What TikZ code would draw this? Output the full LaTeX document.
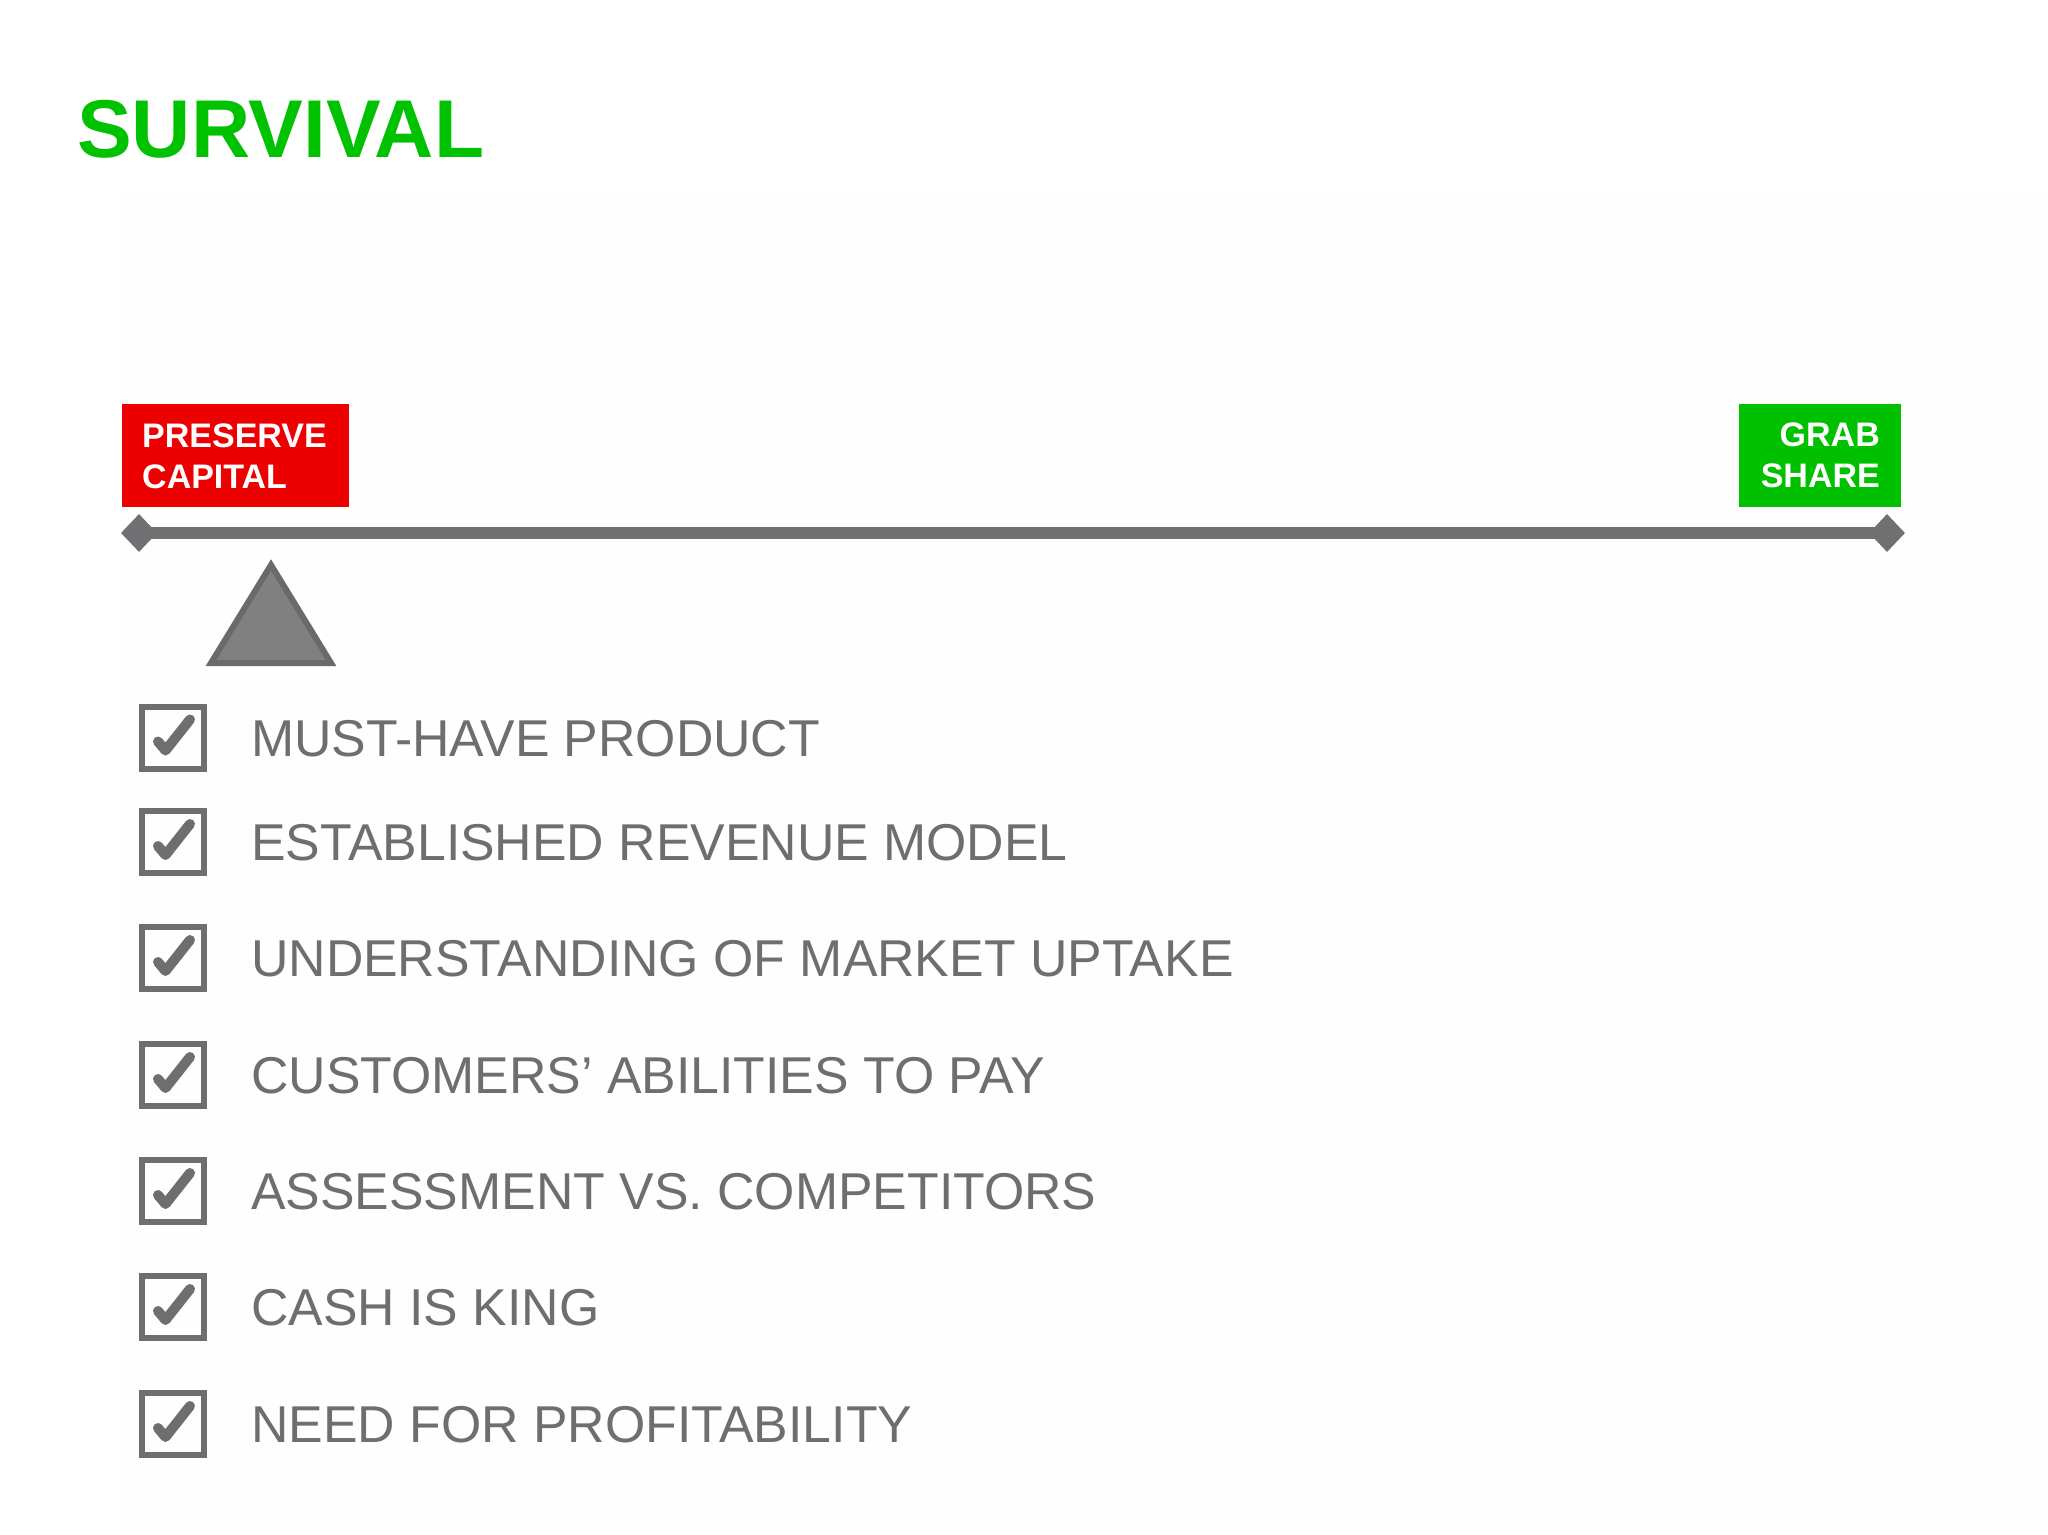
\documentclass[tikz,border=0pt]{standalone}
\usepackage{fontspec}
\setmainfont{Liberation Sans}
\usetikzlibrary{shapes.geometric}
\definecolor{titlegreen}{RGB}{0,194,0}
\definecolor{boxred}{RGB}{236,0,0}
\definecolor{boxgreen}{RGB}{0,192,0}
\definecolor{txtgray}{RGB}{110,110,112}
\definecolor{linegray}{RGB}{112,112,114}
\definecolor{trifill}{RGB}{128,128,128}
\definecolor{triedge}{RGB}{106,106,108}
\definecolor{panel}{RGB}{254,254,254}
\tikzset{
  lbl/.style={inner sep=0pt, anchor=base west, text=white, font=\bfseries\fontsize{34}{40}\selectfont},
  lblr/.style={inner sep=0pt, anchor=base east, text=white, font=\bfseries\fontsize{34}{40}\selectfont},
  item/.style={inner sep=0pt, anchor=base west, text=txtgray, font=\fontsize{51.8}{62}\selectfont},
  cbox/.style={draw=txtgray, line width=6pt, minimum width=62pt, minimum height=62pt, inner sep=0pt, outer sep=0pt},
  endpt/.style={diamond, fill=linegray, minimum width=36pt, minimum height=38pt, inner sep=0pt},
  tag/.style={inner sep=0pt, outer sep=0pt},
  tick/.style={draw=txtgray, line width=10pt, line cap=round, line join=round}
}
\newcommand{\chk}[1]{%
  \draw[tick] ([shift={(-15,4)}]#1) -- ([shift={(-7.5,13)}]#1) -- ([shift={(17,-18)}]#1);}
\begin{document}
\begin{tikzpicture}[x=1pt,y=-1pt]
\useasboundingbox (0,0) rectangle (2048,1534);
\fill[white] (0,0) rectangle (2048,1534);
\fill[panel] (121,194) rectangle (2048,1534);
% title
\node[inner sep=0pt, anchor=base west, text=titlegreen, font=\bfseries\fontsize{82}{98}\selectfont] (title) at (77,157) {SURVIVAL};
% tags
\node[tag, fill=boxred, minimum width=227pt, minimum height=103pt] (red) at (235.5,455.5) {};
\node[lbl] (pres) at (142,447) {PRESERVE};
\node[lbl] (capi) at (142,488) {CAPITAL};
\node[tag, fill=boxgreen, minimum width=162pt, minimum height=103pt] (green) at (1820,455.5) {};
\node[lblr] (grab) at (1880,446) {GRAB};
\node[lblr] (share) at (1880,487) {SHARE};
% beam
\node[endpt] (dl) at (139,533) {};
\node[endpt] (dr) at (1887,533) {};
\draw[linegray, line width=12pt] (dl.center) -- (dr.center);
% fulcrum
\draw[fill=trifill, draw=triedge, line width=6pt, line join=miter] (271,565) -- (331,663) -- (211,663) -- cycle;
% checklist
\foreach \i/\y/\t in {1/737.5/MUST-HAVE PRODUCT, 2/842/ESTABLISHED REVENUE MODEL, 3/958/UNDERSTANDING OF MARKET UPTAKE, 4/1075/CUSTOMERS’ ABILITIES TO PAY, 5/1191/ASSESSMENT VS. COMPETITORS, 6/1307/CASH IS KING, 7/1424/NEED FOR PROFITABILITY}{
  \node[cbox] (b\i) at (173,\y) {};
  \chk{b\i.center}
  \node[item] (t\i) at (251,\y+18.5) {\t};
}
\end{tikzpicture}
\end{document}
